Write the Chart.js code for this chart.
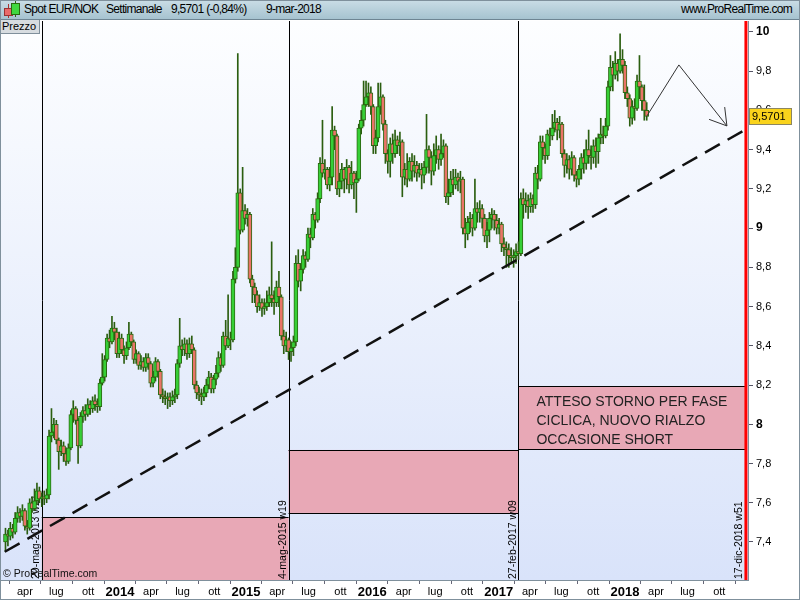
<!DOCTYPE html>
<html>
<head>
<meta charset="utf-8">
<title>Spot EUR/NOK - Settimanale</title>
<script src="https://cdn.jsdelivr.net/npm/chart.js@4.4.1/dist/chart.umd.min.js"></script>
<style>
  html, body { margin: 0; padding: 0; }
  body { width: 800px; height: 600px; position: relative; overflow: hidden; background: #fff; font-family: "Liberation Sans", Arial, sans-serif; }
  #head { position: absolute; left: 0; top: 0; width: 800px; height: 20px; box-sizing: border-box;
          background: linear-gradient(#cadde6, #a6c3d0); border-bottom: 1px solid #6e8593; font-size: 12px; letter-spacing: -0.7px; color: #000; }
  #head span { position: absolute; top: 2px; white-space: nowrap; }
  .ic { position: absolute; box-sizing: border-box; border: 1px solid; }
  #wrap { position: absolute; left: 0; top: 20px; width: 800px; height: 580px; }
  #prezzo { position: absolute; left: 0; top: 20px; width: 40px; height: 14px; box-sizing: border-box; z-index: 2;
            background: #d7dce0; border-right: 1px solid #7f8f9b; border-bottom: 1px solid #7f8f9b;
            font-size: 11px; line-height: 13px; padding-left: 2px; }
  #frame { position: absolute; left: 0; top: 0; width: 800px; height: 600px; box-sizing: border-box; border: 1px solid #7f909c; pointer-events: none; z-index: 3; }
</style>
</head>
<body>
<div id="head">
  <div class="ic" style="left:8px;top:4px;width:1px;height:14px;border:0;background:#a33"></div>
  <div class="ic" style="left:4px;top:8px;width:9px;height:8px;background:#e96a6a;border-color:#933"></div>
  <div class="ic" style="left:15px;top:1px;width:1px;height:16px;border:0;background:#2a6a12"></div>
  <div class="ic" style="left:11px;top:3px;width:9px;height:12px;background:#40d840;border-color:#2a6a12"></div>
  <span style="left:24px">Spot EUR/NOK</span>
  <span style="left:106px">Settimanale</span>
  <span style="left:171px">9,5701 (-0,84%)</span>
  <span style="left:266px">9-mar-2018</span>
  <span style="right:8px">www.ProRealTime.com</span>
</div>
<div id="prezzo">Prezzo</div>
<div id="wrap"><canvas id="chart" width="800" height="580"></canvas></div>
<div id="frame"></div>
<script>
const DAY = 864e5;
const d = (y, m, dd) => Date.UTC(y, m - 1, dd);

const X_MIN = d(2013, 1, 22);
const X_MAX = d(2018, 12, 23);
const Y_MIN = 7.206;
const Y_MAX = 10.056;

// weekly candles, first week 4-feb-2013, last week 5-mar-2018
const FIRST_WEEK = d(2013, 2, 4);
const opens = [
  7.40,7.44,7.43,7.47,7.45,7.52,7.55,7.53,7.56,7.48,
  7.47,7.60,7.57,7.61,7.66,7.62,7.63,7.62,7.64,7.94,
  7.96,8.00,7.92,7.86,7.89,7.85,7.81,7.88,8.05,8.08,
  8.02,7.89,8.04,8.07,8.05,8.10,8.08,8.12,8.10,8.09,
  8.21,8.24,8.33,8.44,8.42,8.49,8.47,8.36,8.44,8.38,
  8.35,8.39,8.46,8.42,8.33,8.36,8.30,8.32,8.29,8.34,
  8.31,8.21,8.24,8.32,8.27,8.15,8.14,8.13,8.14,8.12,
  8.14,8.15,8.31,8.40,8.38,8.41,8.36,8.41,8.38,8.20,
  8.16,8.15,8.14,8.16,8.20,8.24,8.18,8.23,8.26,8.34,
  8.30,8.45,8.40,8.44,8.43,8.74,8.80,9.18,8.99,9.09,
  9.05,9.07,8.74,8.70,8.66,8.60,8.62,8.59,8.60,8.62,
  8.66,8.64,8.62,8.70,8.65,8.45,8.40,8.43,8.37,8.39,
  8.42,8.82,8.73,8.79,8.86,8.84,8.97,8.95,9.07,9.04,
  9.15,9.33,9.28,9.30,9.22,9.26,9.50,9.47,9.20,9.24,
  9.30,9.25,9.31,9.22,9.28,9.23,9.25,9.51,9.55,9.63,
  9.67,9.69,9.62,9.42,9.46,9.62,9.67,9.53,9.38,9.34,
  9.43,9.38,9.45,9.42,9.44,9.26,9.30,9.25,9.34,9.29,
  9.32,9.28,9.30,9.27,9.31,9.40,9.36,9.29,9.37,9.40,
  9.35,9.38,9.42,9.16,9.18,9.25,9.22,9.26,9.24,9.25,
  9.00,8.97,9.03,9.05,9.00,9.10,9.08,9.10,9.05,8.96,
  8.99,9.05,9.07,9.04,9.00,9.02,8.92,8.90,8.89,8.86,
  8.85,8.86,8.88,8.87,9.15,9.12,9.14,9.11,9.15,9.12,
  9.28,9.25,9.44,9.41,9.37,9.48,9.47,9.51,9.54,9.50,
  9.53,9.38,9.32,9.35,9.30,9.36,9.27,9.25,9.30,9.36,
  9.33,9.40,9.37,9.36,9.42,9.39,9.46,9.48,9.47,9.52,
  9.72,9.82,9.78,9.84,9.80,9.86,9.83,9.69,9.66,9.56,
  9.62,9.61,9.75,9.72,9.65,9.60
];
const highs = [
  7.47,7.46,7.50,7.49,7.55,7.58,7.57,7.59,7.57,7.51,
  7.62,7.63,7.67,7.70,7.68,7.65,7.66,7.67,7.97,8.08,
  8.03,8.02,7.93,7.92,7.91,7.88,7.90,8.07,8.12,8.09,
  8.03,8.06,8.09,8.10,8.13,8.12,8.14,8.15,8.13,8.23,
  8.36,8.35,8.46,8.48,8.55,8.52,8.49,8.47,8.46,8.40,
  8.42,8.52,8.47,8.43,8.38,8.37,8.35,8.34,8.36,8.36,
  8.32,8.27,8.34,8.33,8.28,8.18,8.17,8.16,8.16,8.17,
  8.18,8.33,8.54,8.43,8.44,8.43,8.44,8.45,8.39,8.22,
  8.19,8.18,8.19,8.23,8.27,8.26,8.25,8.30,8.37,8.36,
  8.47,8.53,8.66,8.47,8.78,8.90,9.89,9.20,9.31,9.12,
  9.10,9.08,8.76,8.72,8.68,8.66,8.64,8.64,8.68,8.70,
  8.93,8.68,8.73,8.78,8.66,8.48,8.47,8.44,8.42,8.45,
  8.86,8.89,8.82,8.89,8.88,9.00,9.00,9.10,9.08,9.18,
  9.36,9.55,9.35,9.31,9.31,9.62,9.52,9.48,9.28,9.33,
  9.31,9.35,9.32,9.34,9.29,9.29,9.53,9.60,9.75,9.75,
  9.74,9.72,9.63,9.50,9.74,9.74,9.68,9.55,9.40,9.46,
  9.48,9.50,9.47,9.49,9.45,9.33,9.38,9.36,9.38,9.37,
  9.34,9.33,9.33,9.34,9.58,9.42,9.39,9.43,9.47,9.42,
  9.48,9.45,9.43,9.25,9.29,9.30,9.30,9.28,9.29,9.26,
  9.05,9.06,9.08,9.07,9.25,9.13,9.14,9.12,9.07,9.03,
  9.08,9.10,9.09,9.07,9.05,9.03,8.95,8.93,8.92,8.90,
  8.89,8.92,8.93,9.18,9.20,9.18,9.17,9.18,9.17,9.31,
  9.32,9.47,9.47,9.43,9.50,9.51,9.58,9.60,9.56,9.57,
  9.54,9.40,9.38,9.37,9.39,9.37,9.29,9.32,9.38,9.40,
  9.45,9.50,9.42,9.45,9.46,9.48,9.56,9.52,9.56,9.75,
  9.88,9.85,9.90,9.86,9.99,9.91,9.85,9.72,9.68,9.65,
  9.66,9.78,9.88,9.73,9.73,9.64
];
const lows = [
  7.35,7.38,7.41,7.42,7.44,7.50,7.50,7.51,7.46,7.44,
  7.46,7.55,7.56,7.59,7.60,7.58,7.59,7.60,7.62,7.91,
  7.93,7.90,7.77,7.84,7.81,7.79,7.80,7.87,8.01,8.00,
  7.80,7.88,8.01,8.02,8.04,8.05,8.06,8.07,8.06,8.07,
  8.20,8.22,8.32,8.39,8.41,8.43,8.34,8.34,8.36,8.31,
  8.33,8.38,8.40,8.31,8.31,8.28,8.28,8.27,8.27,8.28,
  8.19,8.19,8.22,8.24,8.13,8.11,8.10,8.08,8.09,8.10,
  8.11,8.13,8.29,8.35,8.35,8.33,8.34,8.36,8.18,8.13,
  8.12,8.10,8.12,8.14,8.18,8.16,8.16,8.20,8.24,8.27,
  8.29,8.38,8.39,8.38,8.42,8.72,8.78,8.97,8.98,9.02,
  9.01,8.72,8.62,8.62,8.57,8.58,8.55,8.56,8.58,8.60,
  8.60,8.56,8.60,8.60,8.43,8.36,8.37,8.33,8.32,8.35,
  8.40,8.70,8.68,8.77,8.80,8.83,8.90,8.94,9.00,9.03,
  9.13,9.26,9.25,9.20,9.19,9.22,9.40,9.17,9.16,9.20,
  9.18,9.20,9.18,9.20,9.15,9.08,9.24,9.48,9.52,9.62,
  9.62,9.58,9.38,9.38,9.44,9.58,9.50,9.33,9.28,9.26,
  9.33,9.36,9.38,9.37,9.16,9.22,9.21,9.24,9.24,9.26,
  9.24,9.26,9.20,9.23,9.28,9.28,9.22,9.27,9.33,9.30,
  9.32,9.36,9.13,9.12,9.16,9.17,9.20,9.19,9.18,8.97,
  8.90,8.94,8.98,8.96,8.99,9.03,9.03,9.00,8.93,8.90,
  8.93,9.00,8.99,8.97,8.97,8.88,8.86,8.80,8.80,8.82,
  8.80,8.82,8.84,8.86,9.05,9.08,9.05,9.08,9.08,9.10,
  9.20,9.24,9.35,9.33,9.35,9.42,9.45,9.49,9.45,9.46,
  9.36,9.26,9.28,9.25,9.27,9.24,9.21,9.22,9.25,9.28,
  9.30,9.33,9.30,9.33,9.31,9.33,9.43,9.43,9.46,9.50,
  9.70,9.70,9.76,9.75,9.79,9.79,9.66,9.62,9.52,9.53,
  9.55,9.60,9.66,9.60,9.55,9.55
];
const closes = [
  7.44,7.43,7.47,7.45,7.52,7.55,7.53,7.56,7.48,7.47,
  7.60,7.57,7.61,7.66,7.62,7.63,7.62,7.64,7.94,7.96,
  8.00,7.92,7.86,7.89,7.85,7.81,7.88,8.05,8.08,8.02,
  7.89,8.04,8.07,8.05,8.10,8.08,8.12,8.10,8.09,8.21,
  8.24,8.33,8.44,8.42,8.49,8.47,8.36,8.44,8.38,8.35,
  8.39,8.46,8.42,8.33,8.36,8.30,8.32,8.29,8.34,8.31,
  8.21,8.24,8.32,8.27,8.15,8.14,8.13,8.14,8.12,8.14,
  8.15,8.31,8.40,8.38,8.41,8.36,8.41,8.38,8.20,8.16,
  8.15,8.14,8.16,8.20,8.24,8.18,8.23,8.26,8.34,8.30,
  8.45,8.40,8.44,8.43,8.74,8.80,9.18,8.99,9.09,9.05,
  9.07,8.74,8.70,8.66,8.60,8.62,8.59,8.60,8.62,8.66,
  8.64,8.62,8.70,8.65,8.45,8.40,8.43,8.37,8.39,8.42,
  8.82,8.73,8.79,8.86,8.84,8.97,8.95,9.07,9.04,9.15,
  9.33,9.28,9.30,9.22,9.26,9.50,9.47,9.20,9.24,9.30,
  9.25,9.31,9.22,9.28,9.23,9.25,9.51,9.55,9.63,9.67,
  9.69,9.62,9.42,9.46,9.62,9.67,9.53,9.38,9.34,9.43,
  9.38,9.45,9.42,9.44,9.26,9.30,9.25,9.34,9.29,9.32,
  9.28,9.30,9.27,9.31,9.40,9.36,9.29,9.37,9.40,9.35,
  9.38,9.42,9.16,9.18,9.25,9.22,9.26,9.24,9.25,9.00,
  8.97,9.03,9.05,9.00,9.10,9.08,9.10,9.05,8.96,8.99,
  9.05,9.07,9.04,9.00,9.02,8.92,8.90,8.89,8.86,8.85,
  8.86,8.88,8.87,9.15,9.12,9.14,9.11,9.15,9.12,9.28,
  9.25,9.44,9.41,9.37,9.48,9.47,9.51,9.54,9.50,9.53,
  9.38,9.32,9.35,9.30,9.36,9.27,9.25,9.30,9.36,9.33,
  9.40,9.37,9.36,9.42,9.39,9.46,9.48,9.47,9.52,9.72,
  9.82,9.78,9.84,9.80,9.86,9.83,9.69,9.66,9.56,9.62,
  9.61,9.75,9.72,9.65,9.60,9.5701
];
const weeks = closes.map((_, i) => FIRST_WEEK + i * 7 * DAY);

const yTicks = [7.4, 7.6, 7.8, 8, 8.2, 8.4, 8.6, 8.8, 9, 9.2, 9.4, 9.6, 9.8, 10];
const xTickDates = [
  d(2013,4,1), d(2013,7,1), d(2013,10,1),
  d(2014,1,1), d(2014,4,1), d(2014,7,1), d(2014,10,1),
  d(2015,1,1), d(2015,4,1), d(2015,7,1), d(2015,10,1),
  d(2016,1,1), d(2016,4,1), d(2016,7,1), d(2016,10,1),
  d(2017,1,1), d(2017,4,1), d(2017,7,1), d(2017,10,1),
  d(2018,1,1), d(2018,4,1), d(2018,7,1), d(2018,10,1)
];
const xTickLabels = [
  'apr','lug','ott',
  '2014','apr','lug','ott',
  '2015','apr','lug','ott',
  '2016','apr','lug','ott',
  '2017','apr','lug','ott',
  '2018','apr','lug','ott'
];

// cycle lows and the zones between them
const cycleDates = [d(2013,5,20), d(2015,5,4), d(2017,2,27), d(2018,12,17)];
const cycleLabels = ['20-mag-2013 w21', '4-mag-2015 w19', '27-feb-2017 w09', '17-dic-2018 w51'];
const zoneTop = [7.527, 7.869, 8.195];
const zoneBottom = [Y_MIN, 7.548, 7.874];

const trendDates = [d(2013,2,2), X_MAX];
const trendValues = [7.35, 9.51];
const pathDates = [d(2018,3,5), d(2018,6,6), d(2018,10,23)];
const pathValues = [9.5701, 9.832, 9.521];

const lastPrice = 9.5701;
const noteLines = ['ATTESO STORNO PER FASE', 'CICLICA, NUOVO RIALZO', 'OCCASIONE SHORT'];

const bodyData = weeks.map((t, i) => {
  let lo = Math.min(opens[i], closes[i]), hi = Math.max(opens[i], closes[i]);
  if (hi - lo < 0.006) { lo -= 0.003; hi += 0.003; }
  return { x: t, y: [lo, hi] };
});
const wickData = weeks.map((t, i) => ({ x: t, y: [lows[i], highs[i]] }));
const bodyColors = closes.map((c, i) => c >= opens[i] ? '#36cf36' : '#ea7468');

const half = v => Math.round(v) + 0.5;
const FONT = '"Liberation Sans", Arial, sans-serif';

const decor = {
  id: 'decor',
  beforeDraw(chart) {
    const { ctx, chartArea: a } = chart;
    const g = ctx.createLinearGradient(0, a.top, 0, a.bottom);
    g.addColorStop(0, '#fdfeff');
    g.addColorStop(1, '#d9e3fa');
    ctx.save();
    ctx.fillStyle = g;
    ctx.fillRect(a.left, a.top, a.right - a.left, a.bottom - a.top);
    ctx.restore();
  },
  beforeDatasetsDraw(chart) {
    const { ctx, chartArea: a, scales: { x, y } } = chart;
    ctx.save();
    // pink zones
    for (let i = 0; i < zoneTop.length; i++) {
      const l = x.getPixelForValue(cycleDates[i]);
      const r = x.getPixelForValue(cycleDates[i + 1]);
      const t = y.getPixelForValue(zoneTop[i]);
      const b = Math.min(y.getPixelForValue(zoneBottom[i]), a.bottom);
      ctx.fillStyle = '#e8a8b6';
      ctx.fillRect(l, t, r - l, b - t);
      ctx.strokeStyle = '#000';
      ctx.lineWidth = 1;
      ctx.beginPath();
      ctx.moveTo(l, half(t)); ctx.lineTo(r, half(t));
      if (b < a.bottom - 1) { ctx.moveTo(l, half(b)); ctx.lineTo(r, half(b)); }
      ctx.stroke();
    }
    // black cycle lines
    ctx.strokeStyle = '#000';
    ctx.beginPath();
    for (let i = 0; i < 3; i++) {
      const xx = half(x.getPixelForValue(cycleDates[i]));
      ctx.moveTo(xx, a.top); ctx.lineTo(xx, a.bottom);
    }
    ctx.stroke();
    // note in the last zone
    const nx = x.getPixelForValue(cycleDates[2]) + 18;
    const ny = y.getPixelForValue(zoneTop[2]);
    ctx.fillStyle = '#222';
    ctx.font = '14px ' + FONT;
    ctx.textBaseline = 'middle';
    noteLines.forEach((s, k) => ctx.fillText(s, nx, ny + 16 + k * 19));
    // vertical date labels
    ctx.font = '10.5px ' + FONT;
    ctx.fillStyle = '#000';
    ctx.textBaseline = 'bottom';
    cycleLabels.forEach((s, k) => {
      const xx = x.getPixelForValue(cycleDates[k]) - (k === 3 ? 2 : 0);
      ctx.save();
      ctx.translate(xx, a.bottom - 1);
      ctx.rotate(-Math.PI / 2);
      ctx.fillText(s, 0, 0);
      ctx.restore();
    });
    // copyright
    ctx.font = '10.5px ' + FONT;
    ctx.fillStyle = '#111';
    ctx.textBaseline = 'middle';
    ctx.fillText('\u00a9 ProRealTime.com', a.left + 2, a.bottom - 6);
    ctx.restore();
  },
  afterDatasetsDraw(chart) {
    const { ctx, chartArea: a, scales: { x, y } } = chart;
    ctx.save();
    // arrow head at the end of the projected path
    const n = pathDates.length;
    const x1 = x.getPixelForValue(pathDates[n - 2]), y1 = y.getPixelForValue(pathValues[n - 2]);
    const x2 = x.getPixelForValue(pathDates[n - 1]), y2 = y.getPixelForValue(pathValues[n - 1]);
    const ang = Math.atan2(y2 - y1, x2 - x1);
    ctx.strokeStyle = '#333';
    ctx.lineWidth = 1;
    ctx.beginPath();
    [-0.55, 0.55].forEach(da => {
      ctx.moveTo(x2, y2);
      ctx.lineTo(x2 - 19 * Math.cos(ang + da), y2 - 19 * Math.sin(ang + da));
    });
    ctx.stroke();
    // red line
    const rx = x.getPixelForValue(cycleDates[3]);
    ctx.strokeStyle = '#ff0000';
    ctx.lineWidth = 3;
    ctx.beginPath();
    ctx.moveTo(rx, a.top); ctx.lineTo(rx, a.bottom);
    ctx.stroke();
    ctx.restore();
  },
  afterDraw(chart) {
    const { ctx, chartArea: a, scales: { y } } = chart;
    const yy = Math.round(y.getPixelForValue(lastPrice));
    ctx.save();
    ctx.fillStyle = '#f9d31c';
    ctx.strokeStyle = '#8c8660';
    ctx.lineWidth = 1;
    ctx.fillRect(a.right + 1, yy - 8, 43, 17);
    ctx.strokeRect(a.right + 1.5, yy - 7.5, 42, 16);
    ctx.fillStyle = '#000';
    ctx.font = '11px ' + FONT;
    ctx.textBaseline = 'middle';
    ctx.fillText('9,5701', a.right + 4, yy + 1);
    // left border of the plot
    ctx.strokeStyle = '#7f909c';
    ctx.beginPath();
    ctx.moveTo(0.5, a.top); ctx.lineTo(0.5, a.bottom);
    ctx.stroke();
    ctx.restore();
  }
};

const isInt = v => Math.abs(v - Math.round(v)) < 1e-9;
const noPad = s => { s.paddingTop = 0; s.paddingBottom = 0; s.paddingLeft = 0; s.paddingRight = 0; };

new Chart(document.getElementById('chart'), {
  type: 'bar',
  data: {
    datasets: [
      { type: 'bar', data: wickData, backgroundColor: '#2b5e10', barThickness: 1, grouped: false, order: 4 },
      { type: 'bar', data: bodyData, backgroundColor: bodyColors, borderColor: '#2b6a12', borderWidth: 1,
        borderSkipped: false, barThickness: 4, grouped: false, order: 3 },
      { type: 'line', data: trendDates.map((t, i) => ({ x: t, y: trendValues[i] })),
        borderColor: '#111', borderWidth: 2.5, borderDash: [17, 9], pointRadius: 0, order: 2 },
      { type: 'line', data: pathDates.map((t, i) => ({ x: t, y: pathValues[i] })),
        borderColor: '#333', borderWidth: 1, pointRadius: 0, order: 1 }
    ]
  },
  options: {
    responsive: false,
    animation: false,
    events: [],
    layout: { padding: { left: 1, top: 1, right: 0, bottom: 0 } },
    plugins: { legend: { display: false }, tooltip: { enabled: false } },
    scales: {
      x: {
        type: 'linear', min: X_MIN, max: X_MAX, offset: false,
        afterBuildTicks: s => { s.ticks = xTickDates.map(v => ({ value: v })); },
        afterFit: s => { s.height = 20; noPad(s); },
        grid: { drawOnChartArea: false, drawTicks: true, tickLength: 4, tickColor: '#667' },
        border: { color: '#7f909c' },
        ticks: {
          autoSkip: false, maxRotation: 0, padding: 1, color: '#000',
          font: c => (c && c.index !== undefined && /^\d{4}$/.test(xTickLabels[c.index] || ''))
            ? { family: FONT, size: 13, weight: 'bold' }
            : { family: FONT, size: 11 },
          callback: (v, i) => xTickLabels[i]
        }
      },
      y: {
        position: 'right', min: Y_MIN, max: Y_MAX,
        afterBuildTicks: s => { s.ticks = yTicks.map(v => ({ value: v })); },
        afterFit: s => { s.width = 52; noPad(s); },
        grid: { drawOnChartArea: false, drawTicks: true, tickLength: 5, tickColor: '#556' },
        border: { color: '#7f909c' },
        ticks: {
          padding: 3, color: '#000',
          font: c => (c && c.tick && isInt(c.tick.value))
            ? { family: FONT, size: 12, weight: 'bold' }
            : { family: FONT, size: 11 },
          callback: v => isInt(v) ? String(Math.round(v)) : v.toFixed(1).replace('.', ',')
        }
      }
    }
  },
  plugins: [decor]
});
</script>
</body>
</html>
